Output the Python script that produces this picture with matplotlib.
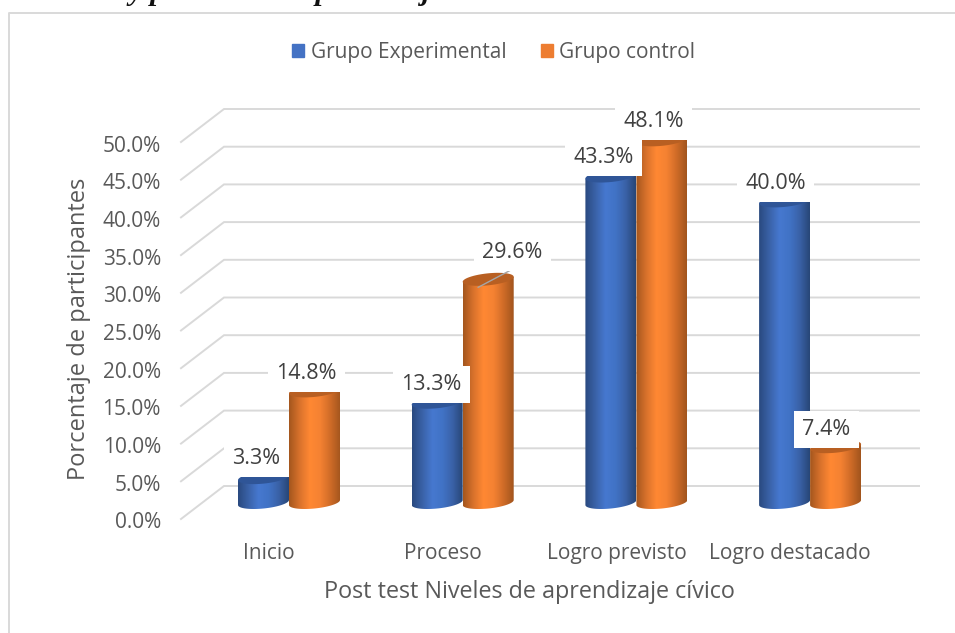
import numpy as np
import matplotlib
matplotlib.use("Agg")
import matplotlib.pyplot as plt
from matplotlib.colors import LinearSegmentedColormap
from matplotlib.lines import Line2D
from matplotlib.patches import PathPatch, Patch
from matplotlib.path import Path
from matplotlib.transforms import ScaledTranslation

# ==========================================================
# Data
# ==========================================================
categories = ["Inicio", "Proceso", "Logro previsto", "Logro destacado"]
experimental = [3.3, 13.3, 43.3, 40.0]
control = [14.8, 29.6, 48.1, 7.4]
y_ticks = [0, 5, 10, 15, 20, 25, 30, 35, 40, 45, 50]
series_names = ["Grupo Experimental", "Grupo control"]

# label offsets from the top of each bar, in pixels
exp_offsets = [(-7, 19), (-6, 17.5), (-7.5, 18.5), (-9, 17.5)]
ctl_offsets = [(-8, 17.5), (24, 26.5), (-8.5, 18.5), (-9, 17.5)]

# ==========================================================
# Style
# ==========================================================
plt.rcParams.update({
    "font.family": "Open Sans",
    "font.size": 15.5,
    "text.color": "#595959",
})

W, H = 955, 633
GRID = "#d9d9d9"
PCT_PX = 7.54          # pixels per percent
CAT_PX = 173.7         # pixels per category
DEPTH_X = 43 / CAT_PX
DEPTH_Y = 33 / PCT_PX
BAR_W = 51 / CAT_PX
BAR_SHIFT = 20 / CAT_PX
BAR_BASE = 16.5 / PCT_PX
ELL_B = 6 / PCT_PX
ELL_TILT = 2.5 / PCT_PX

blue_map = LinearSegmentedColormap.from_list(
    "blue", ["#2a4a80", "#3a62a8", "#4678cf", "#4173c6", "#3a62a8", "#284778"])
orange_map = LinearSegmentedColormap.from_list(
    "orange", ["#a5571e", "#d9722c", "#ff8833", "#f58232", "#d06c28", "#a2551d"])
BLUE_TOP = "#2f5597"
ORANGE_TOP = "#b85f22"

fig = plt.figure(figsize=(W / 100, H / 100), dpi=100)
ax = fig.add_axes([181 / W, 1 - 519 / H, (919 - 181) / W, (519 - 109) / H])
x_left = -88 / CAT_PX
x_right = x_left + (919 - 181) / CAT_PX
y_top = (519 - 109) / PCT_PX


def cylinder(x, value, cmap, top_color):
    a = BAR_W / 2
    t = np.linspace(0, np.pi, 60)
    y_top_c = BAR_BASE + value

    # body: down the left edge, round the bottom arc, up the right edge
    bx = x - a * np.cos(t)
    by = BAR_BASE - ELL_B * np.sin(t) + ELL_TILT * (bx - x) / a
    verts = [(x - a, y_top_c - ELL_TILT)] + list(zip(bx, by)) + [(x + a, y_top_c + ELL_TILT)]
    body = Path(verts + [verts[0]], closed=True)
    patch = PathPatch(body, fc="none", ec="none", zorder=3, transform=ax.transData)
    ax.add_patch(patch)

    im = ax.imshow(
        np.linspace(0, 1, 64).reshape(1, -1),
        cmap=cmap,
        extent=(x - a, x + a, BAR_BASE - 2 * ELL_B, y_top_c + 2 * ELL_B),
        aspect="auto",
        zorder=3,
    )
    im.set_clip_path(patch)

    # top face
    t2 = np.linspace(0, 2 * np.pi, 90)
    tx = x + a * np.cos(t2)
    ty = y_top_c + ELL_B * np.sin(t2) + ELL_TILT * (tx - x) / a
    ax.fill(tx, ty, color=top_color, lw=0, zorder=3.5)


# ==========================================================
# Gridlines on the floor and back wall
# ==========================================================
for v in y_ticks:
    ax.plot([x_left, x_left + DEPTH_X, x_right], [v, v + DEPTH_Y, v + DEPTH_Y],
            color=GRID, lw=1.4, zorder=1, clip_on=False, solid_joinstyle="miter")

# ==========================================================
# Bars
# ==========================================================
for i in range(len(categories)):
    cylinder(i + BAR_SHIFT - BAR_W / 2, experimental[i], blue_map, BLUE_TOP)
for i in range(len(categories)):
    cylinder(i + BAR_SHIFT + BAR_W / 2, control[i], orange_map, ORANGE_TOP)

ax.set_xlim(x_left, x_right)
ax.set_ylim(0, y_top)

# ==========================================================
# Value labels
# ==========================================================
box = dict(boxstyle="square,pad=0.38", fc="white", ec="none")
for i in range(len(categories)):
    xc = i + BAR_SHIFT
    ax.annotate(f"{experimental[i]:.1f}%", (xc - BAR_W / 2, BAR_BASE + experimental[i]),
                xytext=exp_offsets[i], textcoords="offset pixels",
                ha="center", va="center", color="#404040", bbox=box, zorder=5)
    ax.annotate(f"{control[i]:.1f}%", (xc + BAR_W / 2, BAR_BASE + control[i]),
                xytext=ctl_offsets[i], textcoords="offset pixels",
                ha="center", va="center", color="#404040", bbox=box, zorder=5)

# leader line of the 29.6% label
leader_x = 1 + BAR_SHIFT + BAR_W / 2
ax.plot([leader_x - 10 / CAT_PX, leader_x + 24 / CAT_PX],
        [BAR_BASE + control[1] - 8 / PCT_PX, BAR_BASE + control[1] + 10 / PCT_PX],
        color="#a6a6a6", lw=1, zorder=4)

# ==========================================================
# Axes
# ==========================================================
for s in ax.spines.values():
    s.set_visible(False)
ax.patch.set_visible(False)
ax.set_yticks(y_ticks)
ax.set_yticklabels([f"{v:.1f}%" for v in y_ticks])
ax.set_xticks(range(len(categories)))
ax.set_xticklabels(categories)
ax.tick_params(axis="y", length=0, pad=14.5, labelcolor="#595959", labelsize=15)
ax.tick_params(axis="x", length=0, pad=17.3, labelcolor="#595959", labelsize=15)
down = ScaledTranslation(0, -1.5 / 72 * 0.72, fig.dpi_scale_trans)
for lab in ax.get_yticklabels():
    lab.set_transform(lab.get_transform() + down)

fig.text(79 / W, 1 - 329 / H, "Porcentaje de participantes", rotation=90,
         ha="center", va="center", fontsize=17, color="#595959")
fig.text(529 / W, 1 - 592 / H, "Post test Niveles de aprendizaje cívico",
         ha="center", va="center", fontsize=16.8, color="#595959")

handles = [Patch(color="#4472c4"), Patch(color="#ed7d31")]
fig.legend(handles, series_names, loc="center", ncol=2,
           bbox_to_anchor=(493.5 / W, 1 - 52.5 / H), frameon=False,
           handlelength=0.6, handleheight=0.6, handletextpad=0.3,
           columnspacing=1.65, fontsize=15, labelcolor="#595959",
           borderpad=0, borderaxespad=0)

# chart frame and the caption cut off above it
fig.add_artist(Line2D([9 / W, 9 / W, 1], [0, 1 - 13 / H, 1 - 13 / H],
                      color=GRID, lw=1.4, transform=fig.transFigure))
fig.text(30 / W, 1 - 0.5 / H,
         "Pre test y post test del aprendizaje cívico en estudiantes test.",
         family="Liberation Serif", style="italic", weight="bold",
         fontsize=21.5, color="#111111", va="baseline", ha="left")

plt.savefig("out.png", dpi=100)
